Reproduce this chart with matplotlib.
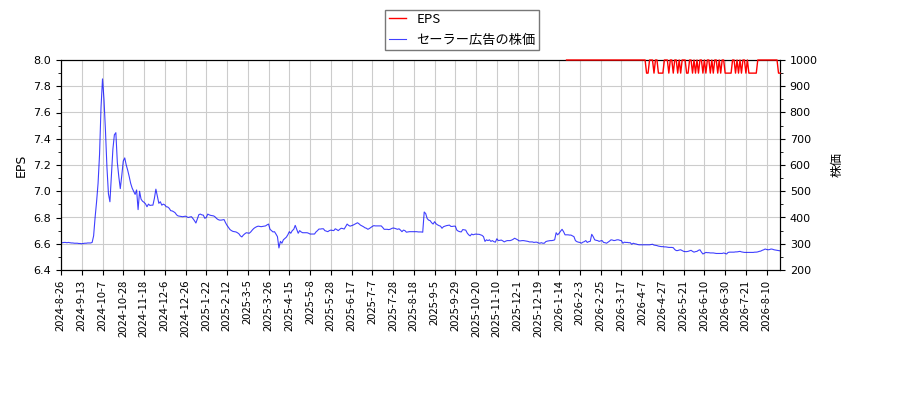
import matplotlib.pyplot as plt
from matplotlib.ticker import AutoMinorLocator, MultipleLocator, FormatStrFormatter
import numpy as np

# x axis is trading-day index, one label every 14 points
tick_step = 14
tick_labels = ['2024-8-26', '2024-9-13', '2024-10-7', '2024-10-28', '2024-11-18',
               '2024-12-6', '2024-12-26', '2025-1-22', '2025-2-12', '2025-3-5',
               '2025-3-26', '2025-4-15', '2025-5-8', '2025-5-28', '2025-6-17',
               '2025-7-7', '2025-7-28', '2025-8-18', '2025-9-5', '2025-9-29',
               '2025-10-20', '2025-11-10', '2025-12-1', '2025-12-19', '2026-1-14',
               '2026-2-3', '2026-2-25', '2026-3-17', '2026-4-7', '2026-4-27',
               '2026-5-21', '2026-6-10', '2026-6-30', '2026-7-21', '2026-8-10']

# share price (right axis)
price = [
    304, 304, 305, 305, 304, 305, 304, 303, 303, 302, 302, 302, 301, 301, 300, 301, 302, 302, 303, 303,
    303, 305, 330, 400, 460, 530, 640, 820, 928, 850, 730, 590, 490, 460, 560, 660, 715, 723, 610, 555,
    510, 560, 615, 627, 600, 580, 556, 530, 512, 500, 488, 505, 430, 500, 470, 462, 458, 452, 441, 451,
    446, 447, 447, 473, 508, 480, 454, 460, 447, 451, 448, 441, 440, 435, 426, 425, 422, 418, 410, 406,
    405, 404, 403, 404, 405, 402, 400, 402, 403, 396, 388, 379, 395, 411, 413, 410, 409, 397, 400, 413,
    410, 408, 407, 406, 402, 396, 392, 390, 390, 391, 392, 380, 370, 362, 354, 350, 347, 346, 345, 342,
    338, 330, 326, 333, 338, 342, 341, 340, 345, 352, 358, 362, 365, 367, 366, 365, 366, 367, 368, 372,
    375, 355, 350, 345, 346, 337, 327, 284, 309, 302, 315, 320, 325, 334, 346, 340, 350, 355, 370, 355,
    340, 350, 345, 342, 342, 342, 342, 340, 337, 337, 337, 337, 345, 350, 356, 356, 357, 357, 350, 348,
    346, 350, 352, 351, 350, 357, 354, 350, 355, 359, 358, 356, 365, 375, 370, 367, 369, 371, 374, 377,
    380, 376, 371, 368, 365, 361, 359, 355, 358, 362, 366, 369, 368, 368, 368, 368, 368, 362, 355, 355,
    355, 354, 355, 358, 360, 359, 357, 355, 357, 352, 346, 352, 350, 344, 345, 346, 346, 346, 346, 346,
    346, 345, 345, 345, 344, 421, 415, 396, 390, 388, 380, 375, 384, 376, 372, 369, 367, 359, 365, 367,
    369, 370, 371, 366, 366, 367, 367, 352, 348, 346, 345, 354, 353, 352, 341, 334, 330, 337, 334, 336,
    337, 336, 336, 334, 332, 327, 309, 315, 312, 315, 309, 312, 308, 306, 319, 312, 313, 314, 311, 307,
    310, 312, 312, 312, 314, 317, 321, 318, 315, 311, 311, 312, 312, 311, 310, 309, 307, 307, 307, 305,
    306, 306, 303, 302, 304, 302, 302, 308, 310, 311, 312, 312, 313, 315, 342, 334, 340, 348, 355, 346,
    334, 334, 334, 333, 333, 330, 327, 312, 308, 306, 305, 302, 306, 308, 312, 305, 308, 309, 336, 327,
    315, 313, 312, 309, 311, 312, 305, 304, 302, 306, 310, 315, 314, 312, 313, 315, 315, 313, 312, 302,
    306, 305, 305, 304, 304, 298, 302, 300, 299, 297, 296, 296, 296, 296, 296, 296, 296, 296, 297, 298,
    295, 294, 293, 291, 290, 289, 289, 288, 288, 287, 286, 286, 286, 285, 278, 274, 274, 276, 277, 274,
    271, 270, 270, 271, 273, 275, 271, 268, 270, 271, 275, 277, 268, 261, 264, 267, 266, 266, 265, 265,
    265, 264, 263, 263, 263, 263, 263, 265, 263, 261, 267, 268, 268, 268, 268, 269, 269, 270, 271, 269,
    268, 267, 267, 267, 267, 267, 267, 267, 268, 268, 269, 271, 272, 275, 277, 280, 278, 277, 278, 280,
    279, 277, 276, 275, 274, 273,
]

# EPS (left axis), only present from index 341
eps_start = 341
eps = ([8.0] * 53 +
       [8.0, 7.9, 7.9, 8.0, 8.0, 8.0, 7.9, 8.0, 8.0, 7.9, 7.9, 7.9, 7.9, 8.0, 8.0, 8.0, 7.9, 8.0, 8.0, 7.9,
        8.0, 8.0, 7.9, 8.0, 7.9, 8.0, 8.0, 8.0, 7.9, 7.9, 8.0, 8.0, 7.9, 8.0, 7.9, 8.0, 7.9, 8.0, 8.0, 7.9,
        8.0, 7.9, 8.0, 8.0, 7.9, 8.0, 7.9, 8.0, 8.0, 7.9, 8.0, 7.9, 8.0, 8.0, 7.9, 7.9, 7.9, 7.9, 7.9, 8.0,
        8.0, 7.9, 8.0, 7.9, 8.0, 7.9, 8.0, 8.0, 7.9, 8.0, 7.9, 7.9, 7.9, 7.9, 7.9, 7.9, 8.0, 8.0, 8.0] +
       [8.0] * 11 + [7.9, 7.9])

cjk = ['Noto Sans CJK JP', 'DejaVu Sans']

fig = plt.figure(figsize=(9, 4), dpi=100)
ax1 = fig.add_axes([61/900, 130/400, 719/900, 210/400])
ax2 = ax1.twinx()
# EPS axis on top so the red line sits over the frame
ax1.set_zorder(2)
ax2.set_zorder(1)
ax1.patch.set_visible(False)
ax2.patch.set_visible(True)
ax2.patch.set_facecolor('white')

x = np.arange(len(price))
x_eps = np.arange(eps_start, eps_start + len(eps))
l1, = ax1.plot(x_eps, eps, color='red', lw=1.0, label='EPS', zorder=3, clip_on=False)
l2, = ax2.plot(x, price, color='blue', lw=0.8, alpha=0.75, label='セーラー広告の株価')

ax1.set_xlim(0, len(price) - 1)
ax1.set_ylim(6.4, 8.0)
ax1.yaxis.set_major_locator(MultipleLocator(0.2))
ax1.yaxis.set_major_formatter(FormatStrFormatter('%.1f'))
ax1.yaxis.set_minor_locator(AutoMinorLocator(2))
ax2.set_ylim(200, 1000)
ax2.yaxis.set_major_locator(MultipleLocator(100))
ax2.yaxis.set_minor_locator(AutoMinorLocator(2))

ticks = np.arange(0, len(price), tick_step)[:len(tick_labels)]
ax1.set_xticks(ticks)
ax1.set_xticklabels(tick_labels, rotation=90, fontsize=8, family=cjk)
ax1.tick_params(axis='y', labelsize=8)
ax2.tick_params(axis='y', labelsize=8)

# grid lives on the lower axes so it stays behind the price line
ax2.xaxis.set_visible(True)
ax2.tick_params(axis='x', which='both', bottom=False, top=False,
                labelbottom=False, labeltop=False)
ax2.grid(True, color='#cccccc', lw=0.8)

ax1.set_ylabel('EPS', fontsize=9)
ax2.set_ylabel('株価', fontsize=9, family=cjk, labelpad=9)

fig.legend(handles=[l1, l2], loc='upper center', bbox_to_anchor=(462/900, 0.9925),
           fancybox=False, edgecolor='#555555', handlelength=1.3,
           borderpad=0.25, labelspacing=0.6,
           prop={'family': cjk, 'size': 9.5})

fig.savefig('out.png')
